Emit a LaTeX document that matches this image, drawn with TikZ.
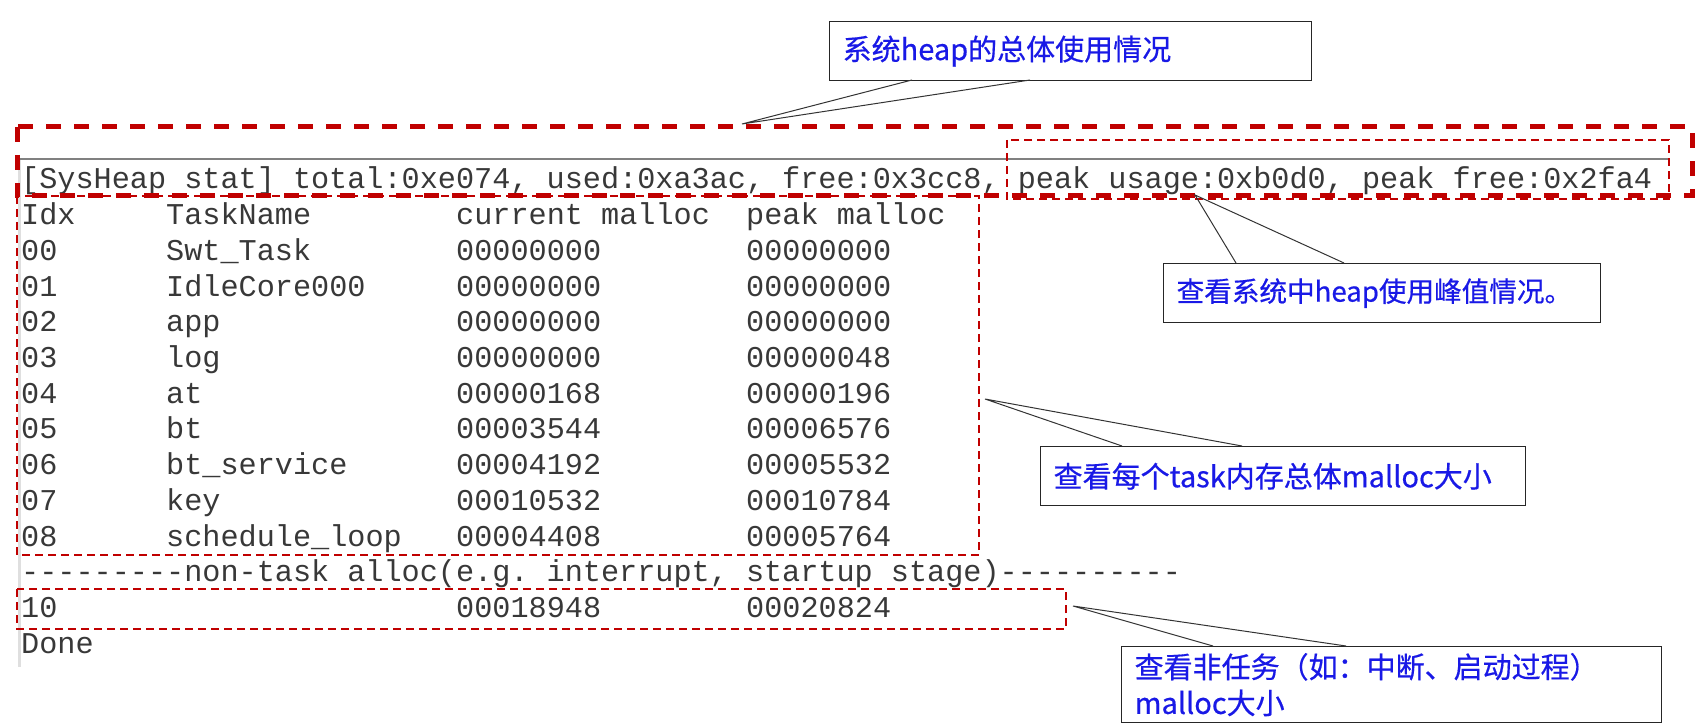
\documentclass[tikz,border=0pt]{standalone}
\usepackage{fontspec}
\setmonofont{Liberation Mono}[Ligatures=TeXOff]
\newfontfamily\cjk{Noto Sans CJK SC}[FakeBold=0.5]
\definecolor{boxred}{RGB}{192,0,0}
\definecolor{noteblue}{RGB}{25,25,230}
\begin{document}
\begin{tikzpicture}[x=1pt,y=-1pt,
  term/.style={anchor=base west, inner sep=0pt, font=\ttfamily\fontsize{30.2}{36}\selectfont, text=black!78},
  bigred/.style={draw=boxred, line width=5pt, dash pattern=on 15pt off 13pt},
  thinred/.style={draw=boxred, line width=2.2pt, dash pattern=on 8pt off 5pt},
  note/.style={draw=black!85, line width=1.3pt, fill=white, anchor=north west, inner xsep=13pt, inner ysep=0pt, align=left, font=\cjk\fontsize{29}{36}\selectfont, text=noteblue},
  pointer/.style={draw=black!80, line width=1pt}
]
\useasboundingbox (0,0) rectangle (1707,727);

% terminal frame lines
\coordinate (gtl) at (20,159);
\coordinate (gtr) at (1668,159);
\coordinate (gbl) at (19.5,667);
\draw[gray!25, line width=3pt] (19.5,160) -- (gbl);
\draw[gray, line width=1.5pt] (gtl) -- (gtr);

% terminal text
\node[term] (stat) at (21,189) {[SysHeap stat] total:0xe074, used:0xa3ac, free:0x3cc8, peak usage:0xb0d0, peak free:0x2fa4};
\foreach \i/\a/\b/\c/\d in {1/Idx/TaskName/current malloc/peak malloc,
  2/00/Swt\_Task/00000000/00000000,
  3/01/IdleCore000/00000000/00000000,
  4/02/app/00000000/00000000,
  5/03/log/00000000/00000048,
  6/04/at/00000168/00000196,
  7/05/bt/00003544/00006576,
  8/06/bt\_service/00004192/00005532,
  9/07/key/00010532/00010784,
  10/08/schedule\_loop/00004408/00005764}{
  \node[term] (idx\i) at (21,{189+35.7*\i}) {\a};
  \node[term] (name\i) at (166,{189+35.7*\i}) {\b};
  \node[term] (cur\i) at (456,{189+35.7*\i}) {\c};
  \node[term] (peak\i) at (746,{189+35.7*\i}) {\d};
}
\node[term] (sep) at (21,{189+35.7*11}) {---------non-task alloc(e.g. interrupt, startup stage)----------};
\node[term] (idx12) at (21,{189+35.7*12}) {10};
\node[term] (cur12) at (456,{189+35.7*12}) {00018948};
\node[term] (peak12) at (746,{189+35.7*12}) {00020824};
\node[term] (done) at (21,{189+35.7*13}) {Done};

% red highlight boxes
\draw[bigred] (17,127) rectangle (1692,196);
\draw[thinred] (1007,140) rectangle (1669,199);
\draw[thinred] (17,196) rectangle (979,555);
\draw[thinred] (17,589) rectangle (1066,629);

% callouts
\node[note, minimum width=482pt, minimum height=59pt, text width=456pt] (n1) at (829,21) {系统heap的总体使用情况};
\coordinate (t1) at (742,124);
\coordinate (b1a) at (912,80);
\coordinate (b1b) at (1030,80);
\draw[pointer] (b1a) -- (t1) -- (b1b);

\node[note, font=\cjk\fontsize{27.6}{32}\selectfont, minimum width=437pt, minimum height=59pt, text width=411pt] (n2) at (1163,263) {查看系统中heap使用峰值情况。};
\coordinate (t2) at (1195,195);
\coordinate (b2a) at (1236,263);
\coordinate (b2b) at (1344,263);
\draw[pointer] (b2a) -- (t2) -- (b2b);

\node[note, minimum width=485pt, minimum height=59pt, text width=459pt] (n3) at (1040,446) {查看每个task内存总体malloc大小};
\coordinate (t3) at (985,399);
\coordinate (b3a) at (1122,446);
\coordinate (b3b) at (1242,446);
\draw[pointer] (b3a) -- (t3) -- (b3b);

\node[note, minimum width=540pt, minimum height=76pt, text width=514pt] (n4) at (1121,646) {查看非任务（如：中断、启动过程）\\malloc大小};
\coordinate (t4) at (1073,606);
\coordinate (b4a) at (1213,646);
\coordinate (b4b) at (1346,646);
\draw[pointer] (b4a) -- (t4) -- (b4b);
\end{tikzpicture}
\end{document}
